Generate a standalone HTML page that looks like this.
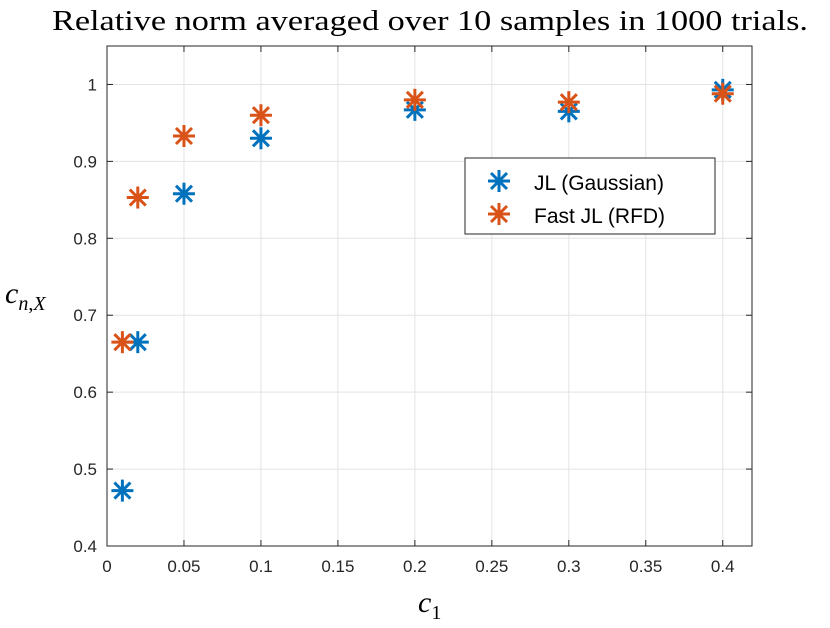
<!DOCTYPE html>
<html><head><meta charset="utf-8"><style>
body{margin:0;background:#fff;width:830px;height:623px;overflow:hidden}
svg text{font-family:"Liberation Sans",sans-serif}
</style></head><body>
<svg id="chart" width="830" height="623">
<text x="52" y="30" textLength="756" lengthAdjust="spacingAndGlyphs" style="font-family:'Liberation Serif',serif" font-size="28" fill="#000">Relative norm averaged over 10 samples in 1000 trials.</text>
<g id="grid"></g>
<g id="ticks"></g>
<rect x="107" y="46" width="645" height="500" fill="none" stroke="#262626" stroke-width="1"/>
<g id="marks"></g>
<text x="418" y="612" style="font-family:'Liberation Serif',serif;font-style:italic" font-size="30">c<tspan font-size="20" dy="7" font-style="normal">1</tspan></text>
<text x="5" y="303" style="font-family:'Liberation Serif',serif;font-style:italic" font-size="30">c<tspan font-size="20" dy="7">n</tspan><tspan font-size="20" font-style="normal">,</tspan><tspan font-size="20">X</tspan></text>
<g>
<rect x="465" y="158" width="250" height="76" fill="#fff" stroke="#262626" stroke-width="1"/>
<g id="legmarks"></g>
<text x="534" y="190" font-size="21">JL (Gaussian)</text>
<text x="534" y="223" font-size="21">Fast JL (RFD)</text>
</g>
</svg>
<script>
const categories=[0.01,0.02,0.05,0.1,0.2,0.3,0.4];
const jlValues=[0.472,0.665,0.858,0.930,0.967,0.965,0.993];
const fastValues=[0.665,0.853,0.933,0.960,0.980,0.977,0.988];
const xTicks=[0,0.05,0.1,0.15,0.2,0.25,0.3,0.35,0.4];
const xTickLabels=["0","0.05","0.1","0.15","0.2","0.25","0.3","0.35","0.4"];
const yTicks=[0.4,0.5,0.6,0.7,0.8,0.9,1];
const yTickLabels=["0.4","0.5","0.6","0.7","0.8","0.9","1"];
const X0=107,X1=752,Y0=546,Y1=46,xmin=0,xmax=0.419,ymin=0.4,ymax=1.05;
const sx=v=>X0+(v-xmin)/(xmax-xmin)*(X1-X0);
const sy=v=>Y0-(v-ymin)/(ymax-ymin)*(Y0-Y1);
const NS="http://www.w3.org/2000/svg";
function mk(t,a,p){const e=document.createElementNS(NS,t);for(const k in a)e.setAttribute(k,a[k]);p.appendChild(e);return e;}
const grid=document.getElementById('grid'),ticks=document.getElementById('ticks');
xTicks.forEach((v,i)=>{const x=sx(v);
 const g=mk('line',{x1:x,x2:x,y1:Y1,y2:Y0,stroke:'#e3e3e3','stroke-width':1},grid);
 
 
 mk('line',{x1:x,x2:x,y1:Y0,y2:Y0-6,stroke:'#262626'},ticks);
 mk('line',{x1:x,x2:x,y1:Y1,y2:Y1+6,stroke:'#262626'},ticks);
 const t=mk('text',{x:x,y:Y0+26,'text-anchor':'middle','font-size':17,fill:'#262626'},ticks);t.textContent=xTickLabels[i];
 
 });
yTicks.forEach((v,i)=>{const y=sy(v);
 const g=mk('line',{x1:X0,x2:X1,y1:y,y2:y,stroke:'#e3e3e3','stroke-width':1},grid);
 
 
 mk('line',{x1:X0,x2:X0+6,y1:y,y2:y,stroke:'#262626'},ticks);
 mk('line',{x1:X1,x2:X1-6,y1:y,y2:y,stroke:'#262626'},ticks);
 const t=mk('text',{x:X0-10,y:y+6,'text-anchor':'end','font-size':17,fill:'#262626'},ticks);t.textContent=yTickLabels[i];
 
 });
function star(x,y,c,p){const g=mk('g',{stroke:c,'stroke-width':3},p);const r=11,d=8;
 mk('line',{x1:x,x2:x,y1:y-r,y2:y+r},g);mk('line',{x1:x-r,x2:x+r,y1:y,y2:y},g);
 mk('line',{x1:x-d,x2:x+d,y1:y-d,y2:y+d},g);mk('line',{x1:x-d,x2:x+d,y1:y+d,y2:y-d},g);return g;}
const marks=document.getElementById('marks');
categories.forEach((c,i)=>{const g=star(sx(c),sy(jlValues[i]),'#0072bd',marks);
 
 });
categories.forEach((c,i)=>{const g=star(sx(c),sy(fastValues[i]),'#d95319',marks);
 
 });
const lm=document.getElementById('legmarks');
const a=star(499,181,'#0072bd',lm);


const b=star(499,214,'#d95319',lm);


</script>
</body></html>
